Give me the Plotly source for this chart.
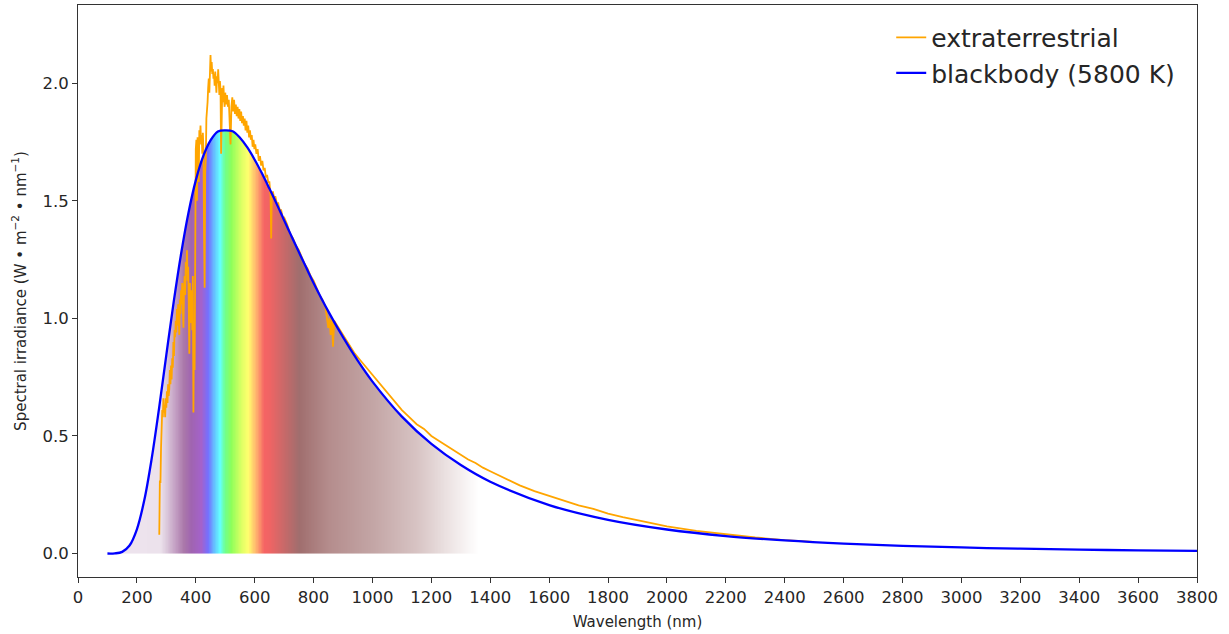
import numpy as np
import plotly.graph_objects as go

# ---- data ----
bb_wl = [100, 125, 150, 175, 200, 225, 250, 275, 300, 325, 350, 375, 400, 425, 450,
         475, 500, 525, 550, 575, 600, 625, 650, 675, 700, 725, 750, 775, 800, 850, 900,
         950, 1000, 1100, 1200, 1300, 1400, 1600, 1800, 2000, 2200, 2400, 2600, 2800,
         3000, 3200, 3400, 3600, 3800]
bb_val = [0.0, 0.0006, 0.0069, 0.034, 0.103, 0.226, 0.402, 0.615, 0.845, 1.070, 1.274,
          1.448, 1.587, 1.689, 1.757, 1.795, 1.800, 1.796, 1.768, 1.727, 1.675, 1.616,
          1.552, 1.486, 1.417, 1.349, 1.282, 1.216, 1.151, 1.030, 0.920, 0.820, 0.731,
          0.582, 0.466, 0.376, 0.305, 0.206, 0.143, 0.102, 0.074, 0.0555, 0.042, 0.0326,
          0.0256, 0.0204, 0.0164, 0.0134, 0.011]

ext_wl = [276, 278, 280, 282, 284, 286, 288, 290, 292, 294, 296, 298, 300, 302, 304, 306,
          308, 310, 312, 314, 316, 318, 320, 322, 324, 326, 328, 330, 332, 334, 336, 338,
          340, 342, 344, 346, 348, 350, 352, 354, 356, 358, 360, 362, 364, 366, 368, 370,
          372, 374, 376, 378, 380, 382, 384, 386, 388, 390, 392, 394, 396, 398, 400, 402,
          404, 406, 408, 410, 412, 414, 416, 418, 420, 422, 424, 426, 428, 430, 432, 434,
          436, 438, 440, 442, 444, 446, 448, 450, 452, 454, 456, 458, 460, 462, 464, 466,
          468, 470, 472, 474, 476, 478, 480, 482, 484, 486, 488, 490, 492, 494, 496, 498,
          500, 503, 506, 509, 512, 515, 518, 521, 524, 527, 530, 533, 536, 539, 542, 545,
          548, 551, 554, 557, 560, 563, 566, 569, 572, 575, 578, 581, 584, 587, 590, 593,
          596, 599, 602, 606, 610, 614, 618, 622, 626, 630, 634, 638, 642, 646, 650, 654,
          656, 658, 662, 666, 670, 675, 680, 685, 690, 695, 700, 710, 720, 730, 740, 750,
          760, 770, 780, 790, 800, 810, 820, 830, 840, 850, 854, 858, 862, 866, 870, 880,
          890, 900, 920, 940, 960, 980, 1000, 1020, 1040, 1060, 1080, 1100, 1125, 1150,
          1175, 1200, 1225, 1250, 1275, 1300, 1325, 1350, 1375, 1400, 1425, 1450, 1475,
          1500, 1550, 1600, 1650, 1700, 1750, 1800, 1850, 1900, 1950, 2000, 2100, 2200,
          2300, 2400, 2500]
ext_val = [0.08, 0.31, 0.30, 0.45, 0.52, 0.61, 0.58, 0.66, 0.60, 0.63, 0.58, 0.66, 0.62, 0.69,
           0.64, 0.72, 0.67, 0.70, 0.78, 0.72, 0.80, 0.74, 0.83, 0.79, 0.90, 0.84, 0.95, 0.92,
           0.99, 0.94, 1.04, 0.97, 1.06, 1.00, 0.93, 1.08, 1.02, 1.12, 1.06, 1.15, 1.09, 0.96,
           1.12, 1.18, 1.10, 1.24, 1.20, 1.29, 1.16, 1.22, 1.08, 0.85, 1.15, 0.98, 1.06, 1.12,
           0.95, 1.18, 0.60, 0.98, 0.78, 1.40, 1.72, 1.76, 1.50, 1.77, 1.70, 1.58, 1.80, 1.76,
           1.82, 1.74, 1.78, 1.70, 1.79, 1.72, 1.35, 1.13, 1.62, 1.68, 1.85, 1.88, 1.92, 1.98,
           2.02, 1.96, 2.08, 2.12, 2.05, 2.09, 2.04, 2.06, 2.02, 2.04, 1.99, 2.05, 2.01, 1.96,
           2.03, 2.00, 2.06, 1.98, 1.95, 2.01, 1.97, 1.70, 1.92, 1.98, 1.92, 1.99, 1.93, 1.90,
           1.96, 1.91, 1.95, 1.90, 1.93, 1.86, 1.74, 1.90, 1.94, 1.88, 1.93, 1.87, 1.91, 1.86,
           1.90, 1.85, 1.89, 1.84, 1.88, 1.83, 1.86, 1.82, 1.85, 1.80, 1.84, 1.79, 1.82, 1.77,
           1.80, 1.76, 1.78, 1.73, 1.76, 1.72, 1.74, 1.70, 1.72, 1.67, 1.69, 1.65, 1.67, 1.63,
           1.64, 1.60, 1.61, 1.58, 1.58, 1.52, 1.34, 1.52, 1.54, 1.51, 1.52, 1.49, 1.49, 1.46,
           1.46, 1.43, 1.43, 1.40, 1.36, 1.34, 1.31, 1.29, 1.26, 1.23, 1.21, 1.18, 1.16, 1.13,
           1.10, 1.08, 1.05, 0.96, 1.00, 0.93, 1.00, 0.88, 0.99, 0.97, 0.95, 0.93, 0.89, 0.85,
           0.82, 0.79, 0.76, 0.73, 0.70, 0.67, 0.64, 0.61, 0.58, 0.55, 0.53, 0.50, 0.48, 0.46,
           0.44, 0.42, 0.40, 0.385, 0.365, 0.35, 0.335, 0.32, 0.305, 0.29, 0.265, 0.245, 0.225,
           0.205, 0.19, 0.17, 0.155, 0.142, 0.128, 0.115, 0.096, 0.081, 0.068, 0.057, 0.049]

# spectrum gradient stops under the blackbody curve
grad_wl = [100, 280, 300, 330, 360, 385, 420, 442, 465, 482, 500, 520, 555, 578, 605,
           632, 650, 700, 752, 850, 1000, 1150, 1250, 1360]
grad_col = ['#eee4ee', '#ece2ec', '#dccadc', '#c4a0c4', '#aa78aa', '#a064b0', '#a462cc',
            '#7470ff', '#64c8ff', '#64ffff', '#70ff8c', '#8cff5a', '#dcff64', '#ffff6e',
            '#ffb46e', '#f56464', '#f06464', '#c86969', '#a06e6e', '#b48c8c', '#c3a5a5',
            '#d7c3c3', '#ebe1e1', '#ffffff']

x_ticks = list(range(0, 3801, 200))
y_ticks = [0.0, 0.5, 1.0, 1.5, 2.0]

# ---- figure ----
lo, hi = grad_wl[0], grad_wl[-1]
cscale = [[(w - lo) / (hi - lo), c] for w, c in zip(grad_wl, grad_col)]
cells = np.arange(lo + 1, hi, 2.0)

fig = go.Figure()
fig.add_trace(go.Heatmap(x=cells, y=[0, 1.85], z=[cells], colorscale=cscale,
                         zmin=lo, zmax=hi, showscale=False, hoverinfo='skip'))

# white mask above the blackbody curve over the gradient span
mask_wl = [w for w in bb_wl if w <= 1400]
mask_val = bb_val[:len(mask_wl)]
mask_x = [lo - 20] + mask_wl
mask_y = [0.0] + mask_val
fig.add_trace(go.Scatter(x=mask_x, y=[2.5] * len(mask_x), mode='lines',
                         line=dict(width=0, color='white'), showlegend=False,
                         hoverinfo='skip'))
fig.add_trace(go.Scatter(x=mask_x, y=mask_y, mode='lines', fill='tonexty',
                         fillcolor='white', line=dict(width=0, color='white', shape='spline'),
                         showlegend=False, hoverinfo='skip'))

fig.add_trace(go.Scatter(x=ext_wl, y=ext_val, mode='lines', name='extraterrestrial',
                         legendgroup='a', line=dict(color='#FFA500', width=1.8)))
fig.add_trace(go.Scatter(x=bb_wl, y=bb_val, mode='lines', name='blackbody (5800 K)',
                         legendgroup='b', line=dict(color='#0000FF', width=2.3, shape='spline')))

axis_common = dict(showline=True, linecolor='#333333', linewidth=1, mirror=True,
                   ticks='outside', ticklen=5, tickcolor='#333333', showgrid=False,
                   zeroline=False, automargin=False, tickfont=dict(size=16.5, color='#262626'))
fig.update_xaxes(range=[0, 3800], tickvals=x_ticks, ticktext=[str(v) for v in x_ticks],
                 title=dict(text='Wavelength (nm)', font=dict(size=15, color='#262626'),
                            standoff=10), **axis_common)
fig.update_yaxes(range=[-0.1, 2.333], tickvals=y_ticks,
                 ticktext=['%.1f' % v for v in y_ticks],
                 title=dict(text='Spectral irradiance (W • m<sup>−2</sup> • nm<sup>−1</sup>)',
                            font=dict(size=15, color='#262626'), standoff=12),
                 **axis_common)
fig.update_layout(width=1229, height=634, margin=dict(l=78, r=32, t=5, b=57),
                  plot_bgcolor='white', paper_bgcolor='white',
                  font=dict(family='DejaVu Sans', color='#262626'),
                  legend=dict(x=0.985, y=0.983, xanchor='right', yanchor='top',
                              traceorder='normal', tracegroupgap=3,
                              font=dict(size=25), bgcolor='rgba(0,0,0,0)'))
fig.write_html('out.html', config={'displayModeBar': False},
               post_script="document.body.style.margin='0px';")
